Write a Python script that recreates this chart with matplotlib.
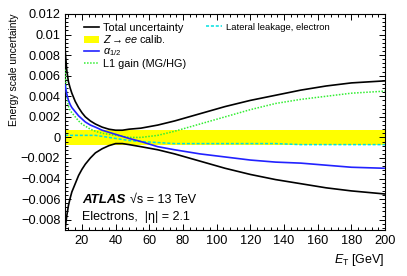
import numpy as np
import matplotlib
matplotlib.use("Agg")
import matplotlib.pyplot as plt
from matplotlib.ticker import MultipleLocator, AutoMinorLocator, FuncFormatter
from matplotlib.patches import Patch
from matplotlib.lines import Line2D

plt.rcParams['font.family'] = ['Liberation Sans', 'DejaVu Sans']
plt.rcParams['mathtext.fontset'] = 'custom'
plt.rcParams['mathtext.rm'] = 'Liberation Sans'
plt.rcParams['mathtext.it'] = 'Liberation Sans:italic'

# E_T bin points [GeV]
et = [10, 11, 12, 13, 14, 15, 16, 18, 20, 22, 25, 28, 32, 36, 40, 44, 48,
      55, 65, 75, 90, 105, 120, 135, 150, 165, 180, 200]

total_up = [0.0085, 0.0065, 0.0054, 0.0048, 0.0043, 0.0039, 0.0035, 0.0029,
            0.0024, 0.0020, 0.0016, 0.0013, 0.0010, 0.0008, 0.0007, 0.0007,
            0.0008, 0.0009, 0.0012, 0.0016, 0.0023, 0.0030, 0.0036, 0.0041,
            0.0046, 0.0050, 0.0053, 0.0055]
total_dn = [-0.0089, -0.0076, -0.0066, -0.0059, -0.0053, -0.0049, -0.0045,
            -0.0037, -0.0031, -0.0026, -0.0020, -0.0015, -0.0011, -0.0008,
            -0.0006, -0.0006, -0.0007, -0.0009, -0.0012, -0.0016, -0.0023,
            -0.0030, -0.0036, -0.0041, -0.0045, -0.0049, -0.0052, -0.0055]
alpha12 = [0.0051, 0.0042, 0.0036, 0.0032, 0.0029, 0.0027, 0.0025, 0.0021,
           0.0018, 0.0015, 0.0012, 0.0010, 0.0007, 0.0005, 0.0003, 0.0001,
           -0.0001, -0.0004, -0.0009, -0.0012, -0.0016, -0.0019, -0.0022,
           -0.0024, -0.0025, -0.0027, -0.0029, -0.0030]
l1gain = [0.0066, 0.0040, 0.0030, 0.0026, 0.0024, 0.0022, 0.0020, 0.0016,
          0.0013, 0.0011, 0.0008, 0.0006, 0.0004, 0.0003, 0.0002, 0.0001,
          0.0000, 0.0000, 0.0002, 0.0006, 0.0013, 0.0020, 0.0027, 0.0033,
          0.0037, 0.0040, 0.0043, 0.0045]
leakage = [0.0002, 0.0002, 0.0002, 0.0002, 0.0002, 0.0002, 0.0002, 0.0002,
           0.0002, 0.0002, 0.0002, 0.0002, 0.0001, 0.0000, -0.0001, -0.0002,
           -0.0003, -0.0004, -0.0005, -0.0006, -0.0006, -0.0006, -0.0006,
           -0.0006, -0.0007, -0.0007, -0.0007, -0.0007]
zee_band = 0.0007

fig = plt.figure(figsize=(4.07, 2.76), dpi=100)
ax = fig.add_axes([0.160, 0.1667, 0.786, 0.7826])

ax.fill_between([10, 200], [-zee_band, -zee_band], [zee_band, zee_band],
                color='#ffff00', linewidth=0, zorder=1)
ax.plot(et, leakage, color='#00e0e0', linestyle=(0, (2, 1.2)), linewidth=1.1, zorder=2)
ax.plot(et, l1gain, color='#33ee33', linestyle=(0, (1, 1)), linewidth=1.1, zorder=3)
ax.plot(et, alpha12, color='#2222ff', linewidth=1.2, zorder=4)
ax.plot(et, total_up, color='black', linewidth=1.2, zorder=5)
ax.plot(et, total_dn, color='black', linewidth=1.2, zorder=5)

ax.set_xlim(10, 200)
ax.set_ylim(-0.009, 0.012)
ax.xaxis.set_major_locator(MultipleLocator(20))
ax.xaxis.set_minor_locator(AutoMinorLocator(5))
ax.yaxis.set_major_locator(MultipleLocator(0.002))
ax.yaxis.set_minor_locator(AutoMinorLocator(5))
ax.yaxis.set_major_formatter(FuncFormatter(lambda v, p: f"{round(v, 4):g}".replace('-', '\u2212')))
ax.tick_params(which='both', direction='in', top=True, right=True, labelsize=9.2, width=0.7)
ax.tick_params(which='major', length=4.5)
ax.tick_params(which='minor', length=2.3)
for s in ax.spines.values():
    s.set_linewidth(0.8)

ax.set_xlabel(r"$E_{\mathrm{T}}$ [GeV]", loc='right', fontsize=9)
ax.set_ylabel("Energy scale uncertainty", loc='top', fontsize=7.4, labelpad=1.5)

h1 = [Line2D([], [], color='black', linewidth=1.2),
      Patch(facecolor='#ffff00', edgecolor='none'),
      Line2D([], [], color='#2222ff', linewidth=1.2),
      Line2D([], [], color='#33ee33', linestyle=(0, (1, 1)), linewidth=1.1)]
l1 = ["Total uncertainty", r"$Z\rightarrow ee$ calib.", r"$\alpha_{1/2}$", "L1 gain (MG/HG)"]
leg1 = ax.legend(h1, l1, loc='upper left', bbox_to_anchor=(0.058, 0.96), frameon=False,
                 fontsize=7.8, handlelength=1.45, handletextpad=0.3, labelspacing=0.08,
                 borderpad=0, borderaxespad=0)
ax.add_artist(leg1)
h2 = [Line2D([], [], color='#00e0e0', linestyle=(0, (2, 1.2)), linewidth=1.1)]
ax.legend(h2, ["Lateral leakage, electron"], loc='upper left', bbox_to_anchor=(0.44, 0.96),
          frameon=False, fontsize=6.8, handlelength=1.7, handletextpad=0.4,
          borderpad=0, borderaxespad=0)

ax.text(0.053, 0.139, "ATLAS", transform=ax.transAxes, fontsize=9.5, fontweight='bold',
        fontstyle='italic', va='center')
ax.text(0.203, 0.139, "\u221as = 13 TeV", transform=ax.transAxes, fontsize=9, va='center')
ax.text(0.053, 0.06, "Electrons,  |\u03b7| = 2.1", transform=ax.transAxes, fontsize=9, va='center')

fig.savefig("out.png", dpi=100)
